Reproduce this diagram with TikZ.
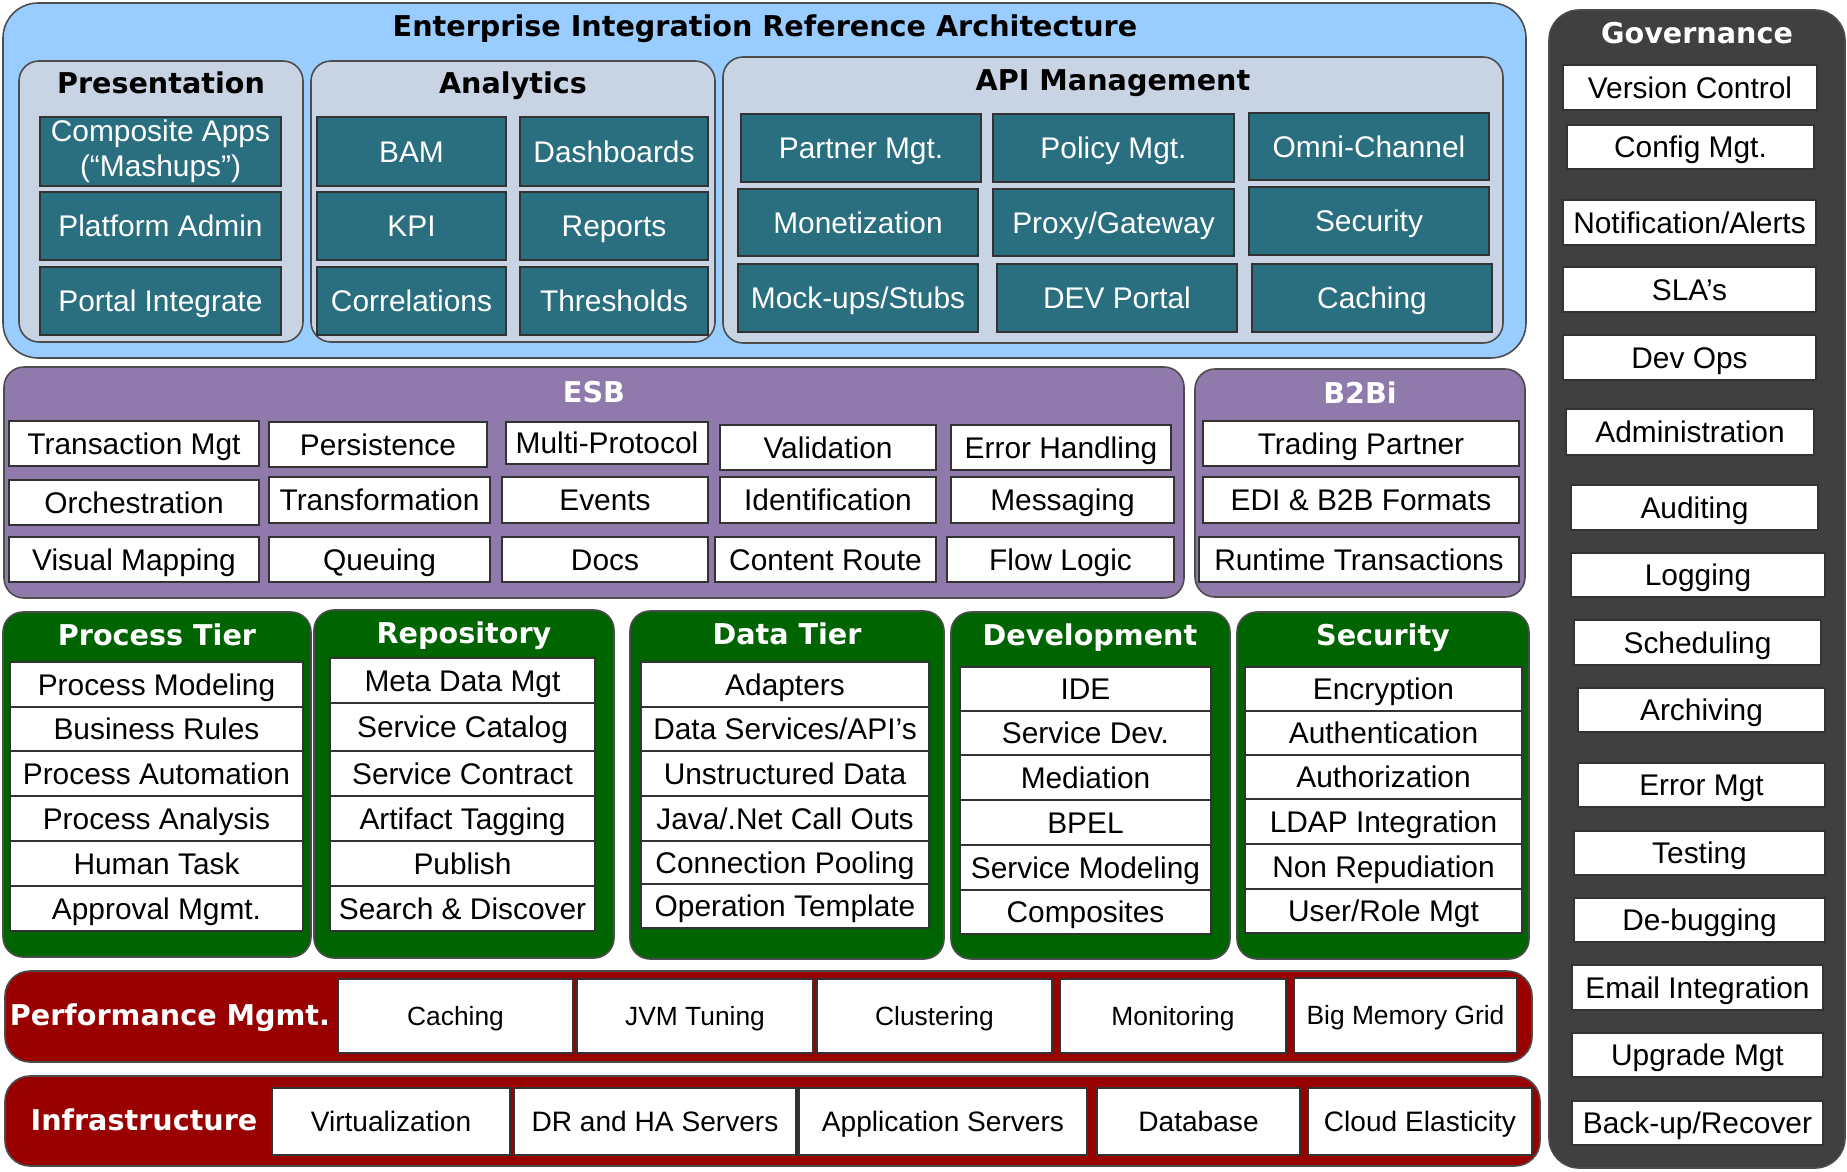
\documentclass[tikz,border=0pt]{standalone}
\usepackage{fontspec}
\setmainfont{Liberation Sans}
\newfontfamily\headfont{DejaVu Sans}
\definecolor{skyblue}{HTML}{99CCFF}
\definecolor{groupgray}{HTML}{C8D4E4}
\definecolor{tealbox}{HTML}{2A6F80}
\definecolor{esbpurple}{HTML}{8F7AAB}
\definecolor{tiergreen}{HTML}{006400}
\definecolor{perfred}{HTML}{990000}
\definecolor{govgray}{HTML}{404040}
\tikzset{
  cellspan/.style n args={4}{at={({0.5*(#1+#3)},{0.5*(#2+#4)})}, minimum width={(#3-#1)*0.02cm}, minimum height={(#4-#2)*0.02cm}},
  panel/.style={draw=black!70, line width=0.9pt, inner sep=0pt, rounded corners=#1},
  panel/.default=0.4cm,
  head/.style={font=\headfont\bfseries\fontsize{16.3}{18}\selectfont, text height=11.9pt, text depth=0pt, inner sep=0pt},
  cellbase/.style={draw=black!80, line width=0.7pt, inner sep=0pt, font=\fontsize{17}{20}\selectfont},
  cell/.style={cellbase, fill=white, text height=12.2pt, text depth=0pt},
  tealcell/.style={cell, fill=tealbox, text=white},
  perfcell/.style={cell, font=\fontsize{15}{17}\selectfont, text height=10.7pt},
  infracell/.style={cell, font=\fontsize{16}{18}\selectfont, text height=11.5pt},
}
\begin{document}
\begin{tikzpicture}[x=0.02cm, y=-0.02cm]
\useasboundingbox (0,0) rectangle (1847,1171);
% top layer
\node[panel=0.7cm, fill=skyblue, cellspan={3}{3}{1526}{358}] (top) {};
\node[head] (title) at (765,26) {Enterprise Integration Reference Architecture};
\node[panel, fill=groupgray, cellspan={19}{61}{303}{342}] (pres) {};
\node[head] (presHead) at (161,83) {Presentation};
\node[cellbase, fill=tealbox, text=white, align=center, cellspan={40}{117}{281}{186}] (composite) {Composite Apps\\(“Mashups”)};
\node[tealcell, cellspan={40}{192}{281}{260}] (platform) {Platform Admin};
\node[tealcell, cellspan={40}{267}{281}{335}] (portal) {Portal Integrate};
\node[panel, fill=groupgray, cellspan={311}{61}{715}{342}] (ana) {};
\node[head] (anaHead) at (513,83) {Analytics};
\node[tealcell, cellspan={317}{117}{506}{186}] (bam) {BAM};
\node[tealcell, cellspan={520}{117}{708}{186}] (dash) {Dashboards};
\node[tealcell, cellspan={317}{192}{506}{260}] (kpi) {KPI};
\node[tealcell, cellspan={520}{192}{708}{260}] (reports) {Reports};
\node[tealcell, cellspan={317}{267}{506}{335}] (corr) {Correlations};
\node[tealcell, cellspan={520}{267}{708}{335}] (thresh) {Thresholds};
\node[panel, fill=groupgray, cellspan={723}{57}{1503}{343}] (api) {};
\node[head] (apiHead) at (1113,80) {API Management};
\node[tealcell, cellspan={741}{114}{981}{182}] (partner) {Partner Mgt.};
\node[tealcell, cellspan={993}{114}{1234}{182}] (policy) {Policy Mgt.};
\node[tealcell, cellspan={1249}{113}{1489}{180}] (omni) {Omni-Channel};
\node[tealcell, cellspan={738}{189}{978}{256}] (monet) {Monetization};
\node[tealcell, cellspan={993}{189}{1234}{256}] (proxy) {Proxy/Gateway};
\node[tealcell, cellspan={1249}{187}{1489}{255}] (apisec) {Security};
\node[tealcell, cellspan={738}{264}{978}{332}] (mock) {Mock-ups/Stubs};
\node[tealcell, cellspan={997}{264}{1237}{332}] (devportal) {DEV Portal};
\node[tealcell, cellspan={1252}{264}{1492}{332}] (apicache) {Caching};
% ESB and B2Bi
\node[panel, fill=esbpurple, cellspan={4}{367}{1184}{598}] (esb) {};
\node[head, text=white] (esbHead) at (594,392) {ESB};
\node[cell, cellspan={9}{421}{259}{466}] (trans) {Transaction Mgt};
\node[cell, cellspan={269}{422}{487}{467}] (persist) {Persistence};
\node[cell, cellspan={506}{422}{708}{464}] (multi) {Multi-Protocol};
\node[cell, cellspan={720}{425}{936}{470}] (valid) {Validation};
\node[cell, cellspan={951}{425}{1171}{470}] (errhand) {Error Handling};
\node[cell, cellspan={9}{480}{259}{525}] (orch) {Orchestration};
\node[cell, cellspan={269}{477}{490}{523}] (transf) {Transformation};
\node[cell, cellspan={502}{477}{708}{523}] (events) {Events};
\node[cell, cellspan={720}{477}{936}{523}] (ident) {Identification};
\node[cell, cellspan={951}{477}{1174}{523}] (msg) {Messaging};
\node[cell, cellspan={9}{537}{259}{582}] (visual) {Visual Mapping};
\node[cell, cellspan={269}{537}{490}{582}] (queue) {Queuing};
\node[cell, cellspan={502}{537}{708}{582}] (docs) {Docs};
\node[cell, cellspan={715}{537}{936}{582}] (route) {Content Route};
\node[cell, cellspan={947}{537}{1174}{582}] (flow) {Flow Logic};
\node[panel, fill=esbpurple, cellspan={1195}{369}{1525}{597}] (b2b) {};
\node[head, text=white] (b2bHead) at (1360,393) {B2Bi};
\node[cell, cellspan={1203}{421}{1519}{466}] (trading) {Trading Partner};
\node[cell, cellspan={1203}{477}{1519}{523}] (edi) {EDI \& B2B Formats};
\node[cell, cellspan={1199}{537}{1519}{582}] (runtime) {Runtime Transactions};
% tiers
\node[panel, fill=tiergreen, cellspan={3}{612}{311}{957}] (proc) {};
\node[head, text=white] (procHead) at (157,635) {Process Tier};
\node[cell, cellspan={10}{662}{303}{707}] (pmodel) {Process Modeling};
\node[cell, cellspan={10}{707}{303}{751}] (rules) {Business Rules};
\node[cell, cellspan={10}{751}{303}{796}] (pauto) {Process Automation};
\node[cell, cellspan={10}{796}{303}{841}] (panalysis) {Process Analysis};
\node[cell, cellspan={10}{841}{303}{886}] (human) {Human Task};
\node[cell, cellspan={10}{886}{303}{931}] (approval) {Approval Mgmt.};
\node[panel, fill=tiergreen, cellspan={314}{610}{614}{958}] (repo) {};
\node[head, text=white] (repoHead) at (464,633) {Repository};
\node[cell, cellspan={330}{658}{595}{703}] (meta) {Meta Data Mgt};
\node[cell, cellspan={330}{703}{595}{751}] (catalog) {Service Catalog};
\node[cell, cellspan={330}{751}{595}{796}] (contract) {Service Contract};
\node[cell, cellspan={330}{796}{595}{841}] (tagging) {Artifact Tagging};
\node[cell, cellspan={330}{841}{595}{886}] (publish) {Publish};
\node[cell, cellspan={330}{886}{595}{931}] (search) {Search \& Discover};
\node[panel, fill=tiergreen, cellspan={630}{611}{944}{959}] (data) {};
\node[head, text=white] (dataHead) at (787,634) {Data Tier};
\node[cell, cellspan={641}{662}{929}{707}] (adapters) {Adapters};
\node[cell, cellspan={641}{707}{929}{751}] (dataapi) {Data Services/API’s};
\node[cell, cellspan={641}{751}{929}{796}] (unstruct) {Unstructured Data};
\node[cell, cellspan={641}{796}{929}{841}] (callouts) {Java/.Net Call Outs};
\node[cell, cellspan={641}{841}{929}{884}] (pooling) {Connection Pooling};
\node[cell, cellspan={641}{884}{929}{928}] (optempl) {Operation Template};
\node[panel, fill=tiergreen, cellspan={951}{612}{1230}{959}] (dev) {};
\node[head, text=white] (devHead) at (1090,635) {Development};
\node[cell, cellspan={960}{667}{1211}{711}] (ide) {IDE};
\node[cell, cellspan={960}{711}{1211}{755}] (servdev) {Service Dev.};
\node[cell, cellspan={960}{755}{1211}{800}] (mediation) {Mediation};
\node[cell, cellspan={960}{800}{1211}{845}] (bpel) {BPEL};
\node[cell, cellspan={960}{845}{1211}{890}] (servmodel) {Service Modeling};
\node[cell, cellspan={960}{890}{1211}{934}] (composites) {Composites};
\node[panel, fill=tiergreen, cellspan={1237}{612}{1529}{959}] (sec) {};
\node[head, text=white] (secHead) at (1383,635) {Security};
\node[cell, cellspan={1245}{667}{1522}{711}] (encrypt) {Encryption};
\node[cell, cellspan={1245}{711}{1522}{755}] (authn) {Authentication};
\node[cell, cellspan={1245}{755}{1522}{799}] (authz) {Authorization};
\node[cell, cellspan={1245}{799}{1522}{844}] (ldap) {LDAP Integration};
\node[cell, cellspan={1245}{844}{1522}{889}] (nonrep) {Non Repudiation};
\node[cell, cellspan={1245}{889}{1522}{933}] (userrole) {User/Role Mgt};
% bottom bands
\node[panel=0.5cm, fill=perfred, cellspan={5}{971}{1532}{1062}] (perf) {};
\node[head, text=white] (perfHead) at (170,1015) {Performance Mgmt.};
\node[perfcell, cellspan={338}{979}{573}{1053}] (pcache) {Caching};
\node[perfcell, cellspan={577}{979}{813}{1053}] (jvm) {JVM Tuning};
\node[perfcell, cellspan={817}{979}{1052}{1053}] (cluster) {Clustering};
\node[perfcell, cellspan={1060}{979}{1286}{1053}] (monitor) {Monitoring};
\node[perfcell, cellspan={1294}{978}{1517}{1053}] (bigmem) {Big Memory Grid};
\node[panel=0.5cm, fill=perfred, cellspan={5}{1076}{1540}{1166}] (infra) {};
\node[head, text=white] (infraHead) at (144,1120) {Infrastructure};
\node[infracell, cellspan={272}{1088}{510}{1155}] (virt) {Virtualization};
\node[infracell, cellspan={514}{1088}{796}{1155}] (drha) {DR and HA Servers};
\node[infracell, cellspan={799}{1088}{1087}{1155}] (appsrv) {Application Servers};
\node[infracell, cellspan={1097}{1088}{1300}{1155}] (database) {Database};
\node[infracell, cellspan={1308}{1088}{1532}{1155}] (cloud) {Cloud Elasticity};
% governance column
\node[panel=0.6cm, fill=govgray, cellspan={1549}{10}{1845}{1168}] (gov) {};
\node[head, text=white] (govHead) at (1697,33) {Governance};
\node[cell, cellspan={1563}{65}{1817}{110}] (version) {Version Control};
\node[cell, cellspan={1567}{125}{1814}{169}] (config) {Config Mgt.};
\node[cell, cellspan={1563}{200}{1816}{245}] (notify) {Notification/Alerts};
\node[cell, cellspan={1563}{267}{1816}{312}] (sla) {SLA’s};
\node[cell, cellspan={1563}{335}{1816}{380}] (devops) {Dev Ops};
\node[cell, cellspan={1566}{409}{1814}{455}] (admin) {Administration};
\node[cell, cellspan={1571}{485}{1818}{530}] (audit) {Auditing};
\node[cell, cellspan={1571}{553}{1825}{597}] (logging) {Logging};
\node[cell, cellspan={1574}{620}{1821}{665}] (sched) {Scheduling};
\node[cell, cellspan={1578}{688}{1825}{732}] (archive) {Archiving};
\node[cell, cellspan={1578}{763}{1825}{807}] (errmgt) {Error Mgt};
\node[cell, cellspan={1574}{831}{1825}{875}] (testing) {Testing};
\node[cell, cellspan={1574}{898}{1825}{942}] (debug) {De-bugging};
\node[cell, cellspan={1572}{965}{1823}{1010}] (email) {Email Integration};
\node[cell, cellspan={1572}{1033}{1823}{1077}] (upgrade) {Upgrade Mgt};
\node[cell, cellspan={1572}{1101}{1823}{1145}] (backup) {Back-up/Recover};
\end{tikzpicture}
\end{document}
